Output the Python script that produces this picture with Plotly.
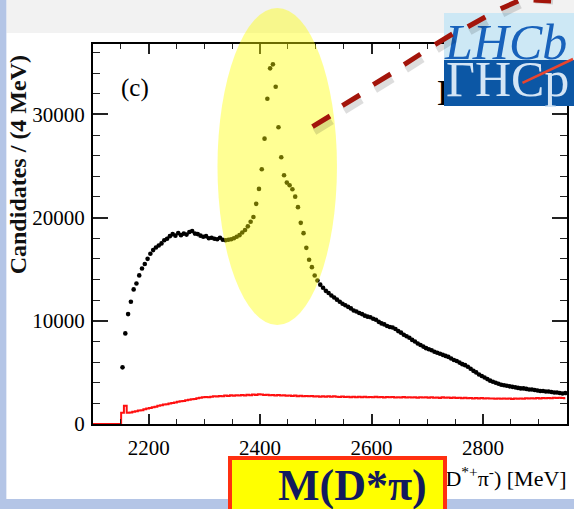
import numpy as np
import plotly.graph_objects as go

# ---- data: D*+ pi- invariant mass, candidates per bin ----
BIN_WIDTH = 5
SIG_START = 2153          # centre of first filled bin (MeV)
signal = [
    5490, 8780, 10650, 11840, 13040, 13620, 14400, 15070, 15500, 16000,
    16500, 16850, 17100, 17300, 17500, 17800, 17950, 18200, 18400, 18250,
    18500, 18300, 18450, 18350, 18600, 18700, 18450, 18400, 18250, 18150,
    18200, 18000, 18050, 17950, 17900, 18050, 17850, 17800, 17850, 17900,
    18000, 18150, 18300, 18550, 18800, 19150, 19600, 20050, 21330, 22780,
    24690, 27650, 31520, 34460, 34850, 32680, 28750, 25850, 24100, 23390,
    23140, 22750, 22030, 21010, 19490, 18490, 17070, 15910, 15200, 14390,
    13900, 13500, 13200, 12900, 12700, 12450, 12250, 12050, 11850, 11650,
    11500, 11350, 11200, 11000, 10900, 10750, 10650, 10500, 10400, 10350,
    10200, 10100, 9900, 9750, 9650, 9500, 9400, 9350, 9200, 9000,
    8850, 8650, 8500, 8350, 8150, 8000, 7800, 7650, 7500, 7350,
    7250, 7150, 7000, 6900, 6800, 6700, 6600, 6500, 6350, 6200,
    6100, 5950, 5800, 5700, 5550, 5350, 5150, 5000, 4800, 4650,
    4500, 4350, 4200, 4100, 4000, 3900, 3800, 3750, 3700, 3650,
    3600, 3550, 3500, 3450, 3450, 3400, 3350, 3350, 3300, 3250,
    3200, 3200, 3150, 3150, 3100, 3050, 3050, 3000, 2950, 3000,
]

BKG_START = 2098          # wrong-sign combinations, same binning
background = [
    0, 0, 0, 0, 0, 0, 0, 0, 0, 0, 0,
    1080, 1760, 1100, 1120, 1180, 1230, 1300, 1340, 1420, 1500,
    1560, 1620, 1660, 1760, 1820, 1880, 1920, 1990, 2040, 2090,
    2150, 2200, 2240, 2310, 2350, 2400, 2430, 2500, 2540, 2590,
    2610, 2580, 2650, 2700, 2660, 2720, 2700, 2760, 2720, 2780,
    2740, 2790, 2760, 2800, 2770, 2830, 2790, 2850, 2810, 2880,
    2870, 2800, 2840, 2790, 2820, 2760, 2800, 2750, 2780, 2730,
    2770, 2720, 2760, 2700, 2740, 2690, 2720, 2680, 2710, 2660,
    2700, 2650, 2690, 2640, 2680, 2640, 2700, 2650, 2620, 2660,
    2610, 2650, 2600, 2640, 2590, 2630, 2600, 2650, 2600, 2620,
    2580, 2630, 2590, 2620, 2570, 2610, 2580, 2620, 2570, 2600,
    2560, 2610, 2570, 2600, 2560, 2590, 2550, 2600, 2560, 2580,
    2540, 2590, 2550, 2570, 2530, 2580, 2540, 2560, 2520, 2570,
    2530, 2550, 2500, 2540, 2490, 2530, 2480, 2520, 2470, 2510,
    2470, 2500, 2460, 2480, 2450, 2470, 2440, 2480, 2450, 2470,
    2430, 2460, 2440, 2470, 2450, 2490, 2460, 2500, 2470, 2510,
    2480, 2520, 2490, 2530, 2500, 2540, 2510, 2550, 2520, 2500,
]

X_RANGE = [2100, 2951]
Y_RANGE = [0, 36820]
X_TICKS = [2200, 2400, 2600, 2800]
Y_TICKS = [0, 10000, 20000, 30000]
X_TICK_LABELS = ["2200", "2400", "2600", "2800"]
Y_TICK_LABELS = ["0", "10000", "20000", "30000"]

sig_x = SIG_START + BIN_WIDTH * np.arange(len(signal))
bkg_x = BKG_START + BIN_WIDTH * np.arange(len(background))

# ---- canvas geometry (pixels) ----
W, H = 574, 509
ML, MR, MT, MB = 93, 5, 44, 85
PW, PH = W - ML - MR, H - MT - MB


def fx(px):
    return (px - ML) / PW


def fy(py):
    return (H - MB - py) / PH


SERIF = "Liberation Serif, Times New Roman, serif"

fig = go.Figure()
fig.add_trace(go.Scatter(
    x=bkg_x, y=background, mode="lines",
    line=dict(color="#ff1010", width=2, shape="hvh"),
    showlegend=False, hoverinfo="skip",
))
fig.add_trace(go.Scatter(
    x=sig_x, y=signal, mode="markers",
    marker=dict(color="black", size=4.6),
    showlegend=False, hoverinfo="skip",
))

axis_common = dict(
    showline=True, linecolor="black", linewidth=2, mirror="ticks",
    ticks="inside", tickcolor="#222", tickwidth=1.5,
    showgrid=False, zeroline=False,
    tickfont=dict(family=SERIF, size=21, color="black"),
)
fig.update_xaxes(
    range=X_RANGE, tickvals=X_TICKS, ticktext=X_TICK_LABELS, ticklen=10,
    minor=dict(dtick=50, tick0=2000, ticks="inside", ticklen=5,
               tickwidth=1.3, tickcolor="#222"),
    ticklabelstandoff=4,
    **axis_common,
)
fig.update_yaxes(
    range=Y_RANGE, tickvals=Y_TICKS, ticktext=Y_TICK_LABELS, ticklen=15,
    minor=dict(dtick=2000, tick0=0, ticks="inside", ticklen=7,
               tickwidth=1.3, tickcolor="#222"),
    ticklabelstandoff=2,
    **axis_common,
)

shapes = [
    # slide frame: grey header band, blue side and bottom strips
    dict(type="rect", xref="paper", yref="paper", layer="below",
         x0=fx(6), x1=fx(W + 5), y0=fy(33), y1=fy(-5),
         fillcolor="#f2f2f2", line=dict(width=0)),
    dict(type="rect", xref="paper", yref="paper", layer="below",
         x0=fx(-5), x1=fx(6), y0=fy(H + 5), y1=fy(-5),
         fillcolor="#b4c5e6", line=dict(width=0)),
    dict(type="rect", xref="paper", yref="paper", layer="below",
         x0=fx(-5), x1=fx(W + 5), y0=fy(H + 5), y1=fy(499),
         fillcolor="#b4c5e6", line=dict(width=0)),
    # highlight around the resonance peak
    dict(type="circle", xref="paper", yref="paper", layer="above",
         x0=fx(218), x1=fx(338), y0=fy(325), y1=fy(8),
         fillcolor="rgba(255,255,0,0.42)", line=dict(width=0)),
]

ann = []
# axis titles and panel label
ann.append(dict(text="<b>Candidates / (4 MeV)</b>", textangle=-90,
                xref="paper", yref="paper", x=fx(18), y=fy(165),
                xanchor="center", yanchor="middle", showarrow=False,
                font=dict(family=SERIF, size=24, color="#111")))
ann.append(dict(text="m(D<sup>*+</sup>π<sup>-</sup>) [MeV]",
                xref="paper", yref="paper", x=fx(571), y=fy(477),
                xanchor="right", yanchor="middle", showarrow=False,
                font=dict(family=SERIF, size=22, color="black")))
ann.append(dict(text="(c)", xref="paper", yref="paper", x=fx(135), y=fy(88),
                xanchor="center", yanchor="middle", showarrow=False,
                font=dict(family=SERIF, size=25, color="black")))
ann.append(dict(text="LHCb", xref="paper", yref="paper", x=fx(436), y=fy(93),
                xanchor="left", yanchor="middle", showarrow=False,
                font=dict(family=SERIF, size=36, color="black")))

# experiment logo: two-tone badge with mirrored lettering
ann.append(dict(text=" ", xref="paper", yref="paper", x=fx(445), y=fy(13),
                xanchor="left", yanchor="top", showarrow=False,
                width=W - 445 + 4, height=47, bgcolor="#cde8f5",
                borderpad=0, borderwidth=0))
ann.append(dict(text=" ", xref="paper", yref="paper", x=fx(445), y=fy(60),
                xanchor="left", yanchor="top", showarrow=False,
                width=W - 445 + 4, height=46, bgcolor="#0c57a5",
                borderpad=0, borderwidth=0))
ann.append(dict(text="ΓHCp", xref="paper", yref="paper", x=fx(509), y=fy(79),
                xanchor="center", yanchor="middle", showarrow=False,
                font=dict(family=SERIF, size=50, color="#d4e5f5")))
ann.append(dict(text="<i>LHCb</i>", xref="paper", yref="paper", x=fx(507), y=fy(42),
                xanchor="center", yanchor="middle", showarrow=False,
                font=dict(family=SERIF, size=50, color="#1862bb")))
ann.append(dict(text="", xref="paper", yref="paper", x=fx(576), y=fy(59),
                showarrow=True, arrowhead=0, arrowwidth=2.5, arrowcolor="#e8452f",
                ax=-52, ay=24, standoff=0, startstandoff=0, borderpad=0))

# dashed pointer line (with soft drop shadow)
dashes = [
    ((313, 127), (331, 116)),
    ((343, 106), (361, 95)),
    ((374, 85), (392, 74)),
    ((405, 65), (422, 54)),
    ((436, 45), (454, 34)),
    ((469, 27), (487, 17)),
    ((502, 9), (520, 0)),
    ((535, -9), (553, -19)),
]
for (x0, y0), (x1, y1) in dashes:
    ann.append(dict(text="", xref="paper", yref="paper",
                    x=fx(x1 + 2), y=fy(y1 + 5), showarrow=True, arrowhead=0,
                    arrowwidth=7, arrowcolor="rgba(0,0,0,0.13)",
                    ax=x0 - x1, ay=y0 - y1, standoff=0, startstandoff=0,
                    borderpad=0))
for (x0, y0), (x1, y1) in dashes:
    ann.append(dict(text="", xref="paper", yref="paper",
                    x=fx(x1), y=fy(y1), showarrow=True, arrowhead=0,
                    arrowwidth=5, arrowcolor="#a3150b",
                    ax=x0 - x1, ay=y0 - y1, standoff=0, startstandoff=0,
                    borderpad=0))

# callout box naming the mass variable
ann.append(dict(text=" ", xref="paper", yref="paper", x=fx(229), y=fy(456),
                xanchor="left", yanchor="top", showarrow=False,
                width=211, height=60, bgcolor="#ffff00",
                bordercolor="#ff3010", borderwidth=4, borderpad=0))
ann.append(dict(text="<b>M(D*π)</b>", xref="paper", yref="paper", x=fx(354), y=fy(485),
                xanchor="center", yanchor="middle", showarrow=False,
                font=dict(family=SERIF, size=44, color="#121a5e")))

fig.update_layout(
    width=W, height=H,
    margin=dict(l=ML, r=MR, t=MT, b=MB),
    paper_bgcolor="white", plot_bgcolor="rgba(0,0,0,0)",
    shapes=shapes, annotations=ann,
    showlegend=False,
)

fig.write_html("out.html")
